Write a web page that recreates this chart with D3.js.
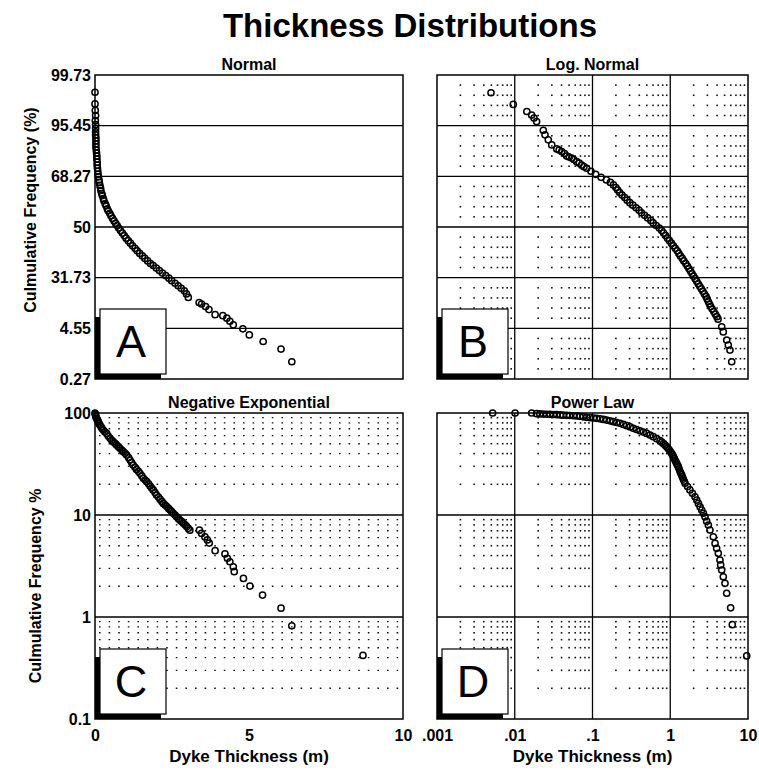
<!DOCTYPE html>
<html lang="en">
<head>
<meta charset="UTF-8">
<title>Thickness Distributions</title>
<script src="https://d3js.org/d3.v7.min.js"></script>
<style>
  body { margin: 0; background: #fff; }
  svg { display: block; font-family: "Liberation Sans", Arial, Helvetica, sans-serif; }
  .frame { fill: none; stroke: #000; stroke-width: 1.5; }
  .grid { stroke: #000; stroke-width: 1.3; }
  .dash { stroke: #111; stroke-width: 1.4; stroke-dasharray: 1.6 8; }
  .dot { fill: #111; }
  .tick text { font-weight: bold; font-size: 16px; fill: #000; }
  .pt { fill: none; stroke: #000; stroke-width: 1.5; }
  .ptitle { font-weight: bold; font-size: 16px; text-anchor: middle; }
  .atitle { font-weight: bold; font-size: 17px; text-anchor: middle; }
  .letter { font-size: 45px; text-anchor: middle; }
</style>
</head>
<body>
<div id="chart"></div>
<script>
// y ticks of the probability panels (standard deviations) and their printed labels
const sigmaTicks = [3, 2, 1, 0, -1, -2, -3];
const sigmaLabels = ["99.73", "95.45", "68.27", "50", "31.73", "4.55", "0.27"];
const pctTicks = [100, 10, 1, 0.1];
const pctLabels = ["100", "10", "1", "0.1"];
const linTicks = [0, 5, 10];
const logTicks = [0.001, 0.01, 0.1, 1, 10];
const logLabels = [".001", ".01", ".1", "1", "10"];

// [thickness m, sigma]
const normalPts = [
  [0.00, 2.66], [0.00, 2.43], [0.01, 2.30], [0.02, 2.20], [0.01, 2.10], [0.02, 2.02], [0.02, 1.95],
  [0.02, 1.88], [0.02, 1.82], [0.03, 1.76], [0.03, 1.70], [0.03, 1.64], [0.03, 1.58], [0.04, 1.52],
  [0.05, 1.46], [0.06, 1.40], [0.06, 1.34], [0.07, 1.28], [0.07, 1.22], [0.08, 1.16], [0.09, 1.10],
  [0.10, 1.04], [0.11, 0.99], [0.13, 0.93], [0.14, 0.88], [0.16, 0.82], [0.18, 0.77], [0.19, 0.72],
  [0.22, 0.66], [0.24, 0.62], [0.27, 0.56], [0.29, 0.52], [0.33, 0.46], [0.36, 0.42], [0.40, 0.36],
  [0.43, 0.32], [0.48, 0.27], [0.52, 0.22], [0.57, 0.17], [0.62, 0.12], [0.67, 0.07], [0.72, 0.03],
  [0.77, -0.02], [0.83, -0.07], [0.89, -0.12], [0.95, -0.17], [1.01, -0.22], [1.08, -0.27],
  [1.15, -0.32], [1.22, -0.37], [1.30, -0.42], [1.37, -0.47], [1.45, -0.52], [1.54, -0.57],
  [1.62, -0.62], [1.71, -0.67], [1.80, -0.72], [1.89, -0.76], [1.99, -0.81], [2.09, -0.86],
  [2.19, -0.91], [2.30, -0.96], [2.40, -1.01], [2.49, -1.06], [2.60, -1.11], [2.70, -1.16],
  [2.80, -1.21], [2.90, -1.26], [2.97, -1.32], [3.03, -1.39],
  [3.38, -1.49], [3.46, -1.52], [3.59, -1.57], [3.70, -1.63], [3.90, -1.73], [4.15, -1.75],
  [4.28, -1.80], [4.38, -1.86], [4.49, -1.93], [4.80, -2.01], [5.01, -2.13], [5.46, -2.26],
  [6.04, -2.41], [6.39, -2.66]
];

// [thickness m, sigma]
const logNormalPts = [
  [0.00495, 2.65], [0.00957, 2.42], [0.0143, 2.28], [0.0165, 2.21], [0.0177, 2.15], [0.0191, 2.08],
  [0.0233, 1.91], [0.0245, 1.82], [0.0270, 1.72], [0.0299, 1.62], [0.0347, 1.54], [0.0372, 1.52],
  [0.0402, 1.49], [0.0437, 1.45], [0.0466, 1.40], [0.0501, 1.38], [0.0540, 1.36], [0.0575, 1.33],
  [0.0627, 1.29], [0.0676, 1.26], [0.0726, 1.22], [0.0776, 1.19], [0.0841, 1.16],
  [0.0955, 1.10], [0.110, 1.04], [0.129, 0.98], [0.151, 0.93], [0.170, 0.88], [0.186, 0.83],
  [0.200, 0.78], [0.211, 0.73], [0.224, 0.68], [0.240, 0.63], [0.260, 0.58], [0.279, 0.53],
  [0.302, 0.48], [0.331, 0.43], [0.363, 0.38], [0.398, 0.33], [0.427, 0.28], [0.468, 0.23],
  [0.513, 0.18], [0.562, 0.13], [0.603, 0.08], [0.661, 0.03], [0.724, -0.02], [0.776, -0.07],
  [0.822, -0.12], [0.871, -0.17], [0.923, -0.22], [0.977, -0.27], [1.035, -0.32], [1.096, -0.37],
  [1.161, -0.42], [1.230, -0.47], [1.288, -0.52], [1.349, -0.57], [1.429, -0.62], [1.496, -0.67],
  [1.585, -0.72], [1.660, -0.77], [1.738, -0.82], [1.820, -0.87], [1.905, -0.92], [1.995, -0.97],
  [2.089, -1.02], [2.188, -1.07], [2.291, -1.12], [2.399, -1.17], [2.512, -1.22], [2.630, -1.27],
  [2.754, -1.32], [2.884, -1.37], [2.985, -1.42], [3.090, -1.47], [3.199, -1.52], [3.311, -1.57],
  [3.467, -1.62], [3.631, -1.67], [3.802, -1.72], [3.981, -1.77], [4.121, -1.82],
  [4.59, -1.97], [4.81, -2.07], [5.32, -2.23], [5.58, -2.33], [5.86, -2.43], [6.17, -2.66]
];

// [thickness m, cumulative frequency %]
const negExpPts = [
  [0.00, 100], [0.01, 97.5], [0.02, 95], [0.03, 92], [0.05, 88.7], [0.08, 85], [0.11, 82.2],
  [0.13, 79], [0.16, 76.2], [0.20, 73], [0.23, 70.5], [0.27, 68.1], [0.32, 65.5], [0.38, 63.1],
  [0.43, 59.5], [0.49, 56.5], [0.54, 54.3], [0.59, 52.4], [0.65, 50.5], [0.70, 48.6], [0.76, 46.8],
  [0.81, 45.1], [0.87, 43.4], [0.92, 41.8], [0.98, 40.2], [1.03, 38.7], [1.09, 36.6], [1.14, 34.6],
  [1.19, 32.7], [1.24, 30.9], [1.30, 29.4], [1.35, 28.0], [1.41, 26.8], [1.46, 25.6], [1.52, 24.2],
  [1.57, 22.9], [1.63, 22.0], [1.68, 21.2], [1.74, 20.2], [1.79, 19.2], [1.84, 18.4], [1.89, 17.6],
  [1.95, 16.6], [2.00, 15.7], [2.06, 15.0], [2.11, 14.3], [2.17, 13.6], [2.22, 13.0], [2.28, 12.5],
  [2.33, 12.1], [2.39, 11.6], [2.44, 11.2], [2.49, 10.8], [2.54, 10.4], [2.60, 10.0], [2.65, 9.6],
  [2.71, 9.2], [2.76, 8.9], [2.82, 8.6], [2.87, 8.3], [2.93, 8.0], [2.98, 7.7], [3.03, 7.4],
  [3.08, 7.1],
  [3.39, 7.1], [3.46, 6.6], [3.57, 6.1], [3.65, 5.7], [3.71, 5.3], [3.90, 4.47], [4.22, 4.15],
  [4.30, 3.76], [4.38, 3.48], [4.49, 3.11], [4.52, 2.78], [4.82, 2.39], [5.03, 2.01], [5.44, 1.64],
  [6.04, 1.22], [6.39, 0.82], [8.70, 0.42]
];

// [thickness m, cumulative frequency %]
const powerLawPts = [
  [0.0052, 100], [0.0101, 100], [0.0165, 100],
  [0.0191, 98.5], [0.021, 98], [0.0233, 97.5], [0.0257, 97.2], [0.0284, 97.0], [0.0315, 96.7],
  [0.0347, 96.3], [0.0385, 95.8], [0.042, 95.3], [0.0466, 94.9], [0.051, 94.5], [0.057, 94.0],
  [0.0627, 93.5], [0.069, 92.7], [0.076, 91.8], [0.0841, 90.7], [0.093, 90.0], [0.103, 89.3],
  [0.113, 88.7], [0.125, 87.6], [0.138, 86.5], [0.152, 85.3], [0.168, 83.8], [0.185, 82.2],
  [0.205, 80.7], [0.226, 79.2], [0.25, 77.2], [0.275, 75.2], [0.305, 73.0], [0.335, 70.8],
  [0.37, 68.9], [0.408, 67.0], [0.45, 65.0], [0.498, 63.1], [0.55, 60.8], [0.605, 58.6],
  [0.67, 56.0], [0.738, 53.5], [0.78, 51.8], [0.82, 50.0], [0.86, 48.4], [0.90, 46.8],
  [0.935, 45.1], [0.97, 43.5], [1.005, 41.9], [1.04, 40.3], [1.07, 38.8], [1.10, 37.3],
  [1.125, 35.9], [1.15, 34.6], [1.18, 33.3], [1.21, 32.0], [1.24, 30.9], [1.27, 29.8],
  [1.30, 28.4], [1.33, 27.0], [1.365, 25.8], [1.40, 24.7], [1.435, 23.6], [1.47, 22.5],
  [1.51, 21.5], [1.55, 20.5], [1.67, 19.0], [1.79, 17.6], [1.93, 16.3], [2.08, 15.1],
  [2.19, 14.0], [2.30, 13.0], [2.42, 12.0], [2.54, 11.2], [2.67, 10.4], [2.80, 9.6],
  [2.94, 8.7], [3.09, 7.98], [3.24, 7.13],
  [3.58, 6.12], [3.77, 5.27], [3.95, 4.71], [4.15, 4.21], [4.36, 3.62], [4.45, 3.24],
  [4.59, 2.89], [4.81, 2.48], [5.06, 2.14], [5.32, 1.71], [5.98, 1.23], [6.28, 0.84],
  [9.62, 0.415]
];

const W = 759, H = 770;
const svg = d3.select('#chart').append('svg')
    .attr('width', W)
    .attr('height', H);

svg.append('rect').attr('width', W).attr('height', H).attr('fill', '#fff');

const xLin = d3.scaleLinear().domain([0, 10]).range([95, 403]);
const xLog = d3.scaleLog().domain([0.001, 10]).range([437, 748]);
const ySig = d3.scaleLinear().domain([-3, 3]).range([379, 75]);
const yPct = d3.scaleLog().domain([0.1, 100]).range([719, 413]);

function logMinors(lo, hi) {
    const out = [];
    for (let e = lo; e < hi; e++) {
        for (let k = 2; k <= 9; k++) out.push(k * Math.pow(10, e));
    }
    return out;
}
const sigMinors = d3.range(-3, 3.001, 0.2).filter(v => Math.abs(v - Math.round(v)) > 0.01);

function drawPanel(o) {
    const g = svg.append('g');
    const [x0, x1] = o.x.range();
    const [y1, y0] = o.y.range();

    // dotted minor grid
    if (o.dots) {
        const cells = [];
        o.minorX.forEach(mx => o.minorY.forEach(my => cells.push([mx, my])));
        g.selectAll('.dot').data(cells).join('rect')
            .attr('class', 'dot')
            .attr('x', d => o.x(d[0]) - 0.8)
            .attr('y', d => o.y(d[1]) - 0.8)
            .attr('width', 1.6)
            .attr('height', 1.6);
    }
    if (o.dashes) {
        g.selectAll('.dash').data(o.minorY).join('line')
            .attr('class', 'dash')
            .attr('x1', x0 + 4).attr('x2', x1)
            .attr('y1', d => o.y(d)).attr('y2', d => o.y(d));
    }

    g.selectAll('.gy').data(o.majorY).join('line')
        .attr('class', 'grid')
        .attr('x1', x0).attr('x2', x1)
        .attr('y1', d => o.y(d)).attr('y2', d => o.y(d));
    g.selectAll('.gx').data(o.majorX || []).join('line')
        .attr('class', 'grid')
        .attr('y1', y0).attr('y2', y1)
        .attr('x1', d => o.x(d)).attr('x2', d => o.x(d));

    g.append('rect')
        .attr('class', 'frame')
        .attr('x', x0).attr('y', y0)
        .attr('width', x1 - x0).attr('height', y1 - y0);

    g.append('text')
        .attr('class', 'ptitle')
        .attr('x', (x0 + x1) / 2)
        .attr('y', y0 - 5)
        .text(o.title);

    // letter box with its shadow
    g.append('rect')
        .attr('x', x0).attr('y', y1 - 62)
        .attr('width', 66).attr('height', 62)
        .attr('fill', '#000');
    g.append('rect')
        .attr('x', x0 + 5).attr('y', y1 - 70)
        .attr('width', 66).attr('height', 65)
        .attr('fill', '#fff').attr('stroke', '#000').attr('stroke-width', 1.2);
    g.append('text')
        .attr('class', 'letter')
        .attr('x', x0 + 36)
        .attr('y', y1 - 22)
        .text(o.letter);

    if (o.yTicks) {
        g.append('g')
            .attr('transform', `translate(${x0},0)`)
            .call(d3.axisLeft(o.y).tickValues(o.yTicks).tickSize(0).tickPadding(4)
                .tickFormat((d, i) => o.yLabels[i]))
            .call(a => a.select('.domain').remove());
    }
    if (o.xTicks) {
        g.append('g')
            .attr('transform', `translate(0,${y1})`)
            .call(d3.axisBottom(o.x).tickValues(o.xTicks).tickSize(0).tickPadding(11)
                .tickFormat((d, i) => o.xLabels[i]))
            .call(a => a.select('.domain').remove());
        g.append('text')
            .attr('class', 'atitle')
            .attr('x', (x0 + x1) / 2)
            .attr('y', 762)
            .text('Dyke Thickness (m)');
    }

    g.selectAll('.pt').data(o.data).join('circle')
        .attr('class', 'pt')
        .attr('cx', d => o.x(d[0]))
        .attr('cy', d => o.y(d[1]))
        .attr('r', 3.1);
}

drawPanel({
    letter: 'A', title: 'Normal', x: xLin, y: ySig, data: normalPts,
    majorY: [-2, -1, 0, 1, 2],
    yTicks: sigmaTicks, yLabels: sigmaLabels
});
drawPanel({
    letter: 'B', title: 'Log. Normal', x: xLog, y: ySig, data: logNormalPts,
    majorY: [-2, -1, 0, 1, 2], majorX: [0.01, 0.1, 1],
    dots: true, minorX: logMinors(-3, 1), minorY: sigMinors
});
drawPanel({
    letter: 'C', title: 'Negative Exponential', x: xLin, y: yPct, data: negExpPts,
    majorY: [1, 10],
    dashes: true, minorY: logMinors(-1, 2),
    yTicks: pctTicks, yLabels: pctLabels,
    xTicks: linTicks, xLabels: linTicks.map(String)
});
drawPanel({
    letter: 'D', title: 'Power Law', x: xLog, y: yPct, data: powerLawPts,
    majorY: [1, 10], majorX: [0.01, 0.1, 1],
    dots: true, minorX: logMinors(-3, 1), minorY: logMinors(-1, 2),
    xTicks: logTicks, xLabels: logLabels
});

// y axis titles
svg.append('text')
    .attr('class', 'atitle')
    .attr('transform', 'translate(30,210) rotate(-90)')
    .attr('dy', '0.35em')
    .style('font-size', '16px')
    .text('Culmulative Frequency (%)');
svg.append('text')
    .attr('class', 'atitle')
    .attr('transform', 'translate(35,586) rotate(-90)')
    .attr('dy', '0.35em')
    .style('font-size', '16px')
    .text('Culmulative Frequency %');

svg.append('text')
    .attr('x', 410)
    .attr('y', 37)
    .attr('text-anchor', 'middle')
    .style('font-weight', 'bold')
    .style('font-size', '33px')
    .text('Thickness Distributions');
</script>
</body>
</html>
